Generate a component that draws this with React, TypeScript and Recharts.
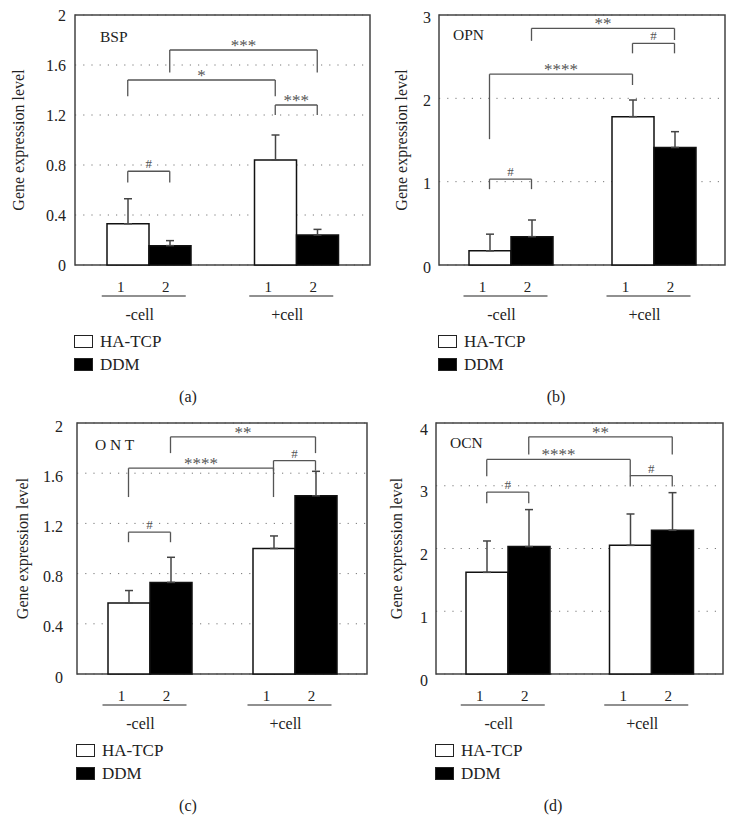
import { BarChart, Bar, XAxis, YAxis, CartesianGrid, ErrorBar, ReferenceArea, ReferenceLine, Legend } from "recharts";

const GROUPS = ["-cell", "+cell"];
const SERIES = [
  { key: "ha", name: "HA-TCP", fill: "#fff" },
  { key: "ddm", name: "DDM", fill: "#000" },
];

// BSP
const BSP_TICKS = [0, 0.4, 0.8, 1.2, 1.6, 2];
const BSP_HA = [0.33, 0.84];
const BSP_HA_SD = [0.2, 0.2];
const BSP_DDM = [0.155, 0.24];
const BSP_DDM_SD = [0.04, 0.045];
// [from bar, to bar, top, left leg end, right leg end, mark]
const BSP_SIG = [
  [0, 1, 0.75, 0.66, 0.66, "#"],
  [0, 2, 1.48, 1.35, 1.35, "*"],
  [1, 3, 1.72, 1.54, 1.54, "***"],
  [2, 3, 1.28, 1.2, 1.2, "***"],
];

// OPN
const OPN_TICKS = [0, 1, 2, 3];
const OPN_HA = [0.17, 1.78];
const OPN_HA_SD = [0.2, 0.2];
const OPN_DDM = [0.34, 1.41];
const OPN_DDM_SD = [0.2, 0.19];
const OPN_SIG = [
  [0, 1, 1.03, 0.91, 0.91, "#"],
  [0, 2, 2.29, 1.51, 2.16, "****"],
  [1, 3, 2.84, 2.69, 2.7, "**"],
  [2, 3, 2.66, 2.54, 2.54, "#"],
];

// ONT
const ONT_TICKS = [0, 0.4, 0.8, 1.2, 1.6, 2];
const ONT_HA = [0.565, 1.0];
const ONT_HA_SD = [0.1, 0.1];
const ONT_DDM = [0.73, 1.42];
const ONT_DDM_SD = [0.2, 0.195];
const ONT_SIG = [
  [0, 1, 1.13, 1.05, 1.05, "#"],
  [0, 2, 1.64, 1.41, 1.41, "****"],
  [1, 3, 1.89, 1.76, 1.76, "**"],
  [2, 3, 1.7, 1.62, 1.62, "#"],
];

// OCN
const OCN_TICKS = [0, 1, 2, 3, 4];
const OCN_HA = [1.62, 2.05];
const OCN_HA_SD = [0.5, 0.5];
const OCN_DDM = [2.03, 2.29];
const OCN_DDM_SD = [0.59, 0.6];
const OCN_SIG = [
  [0, 1, 2.9, 2.72, 2.72, "#"],
  [0, 2, 3.42, 3.15, 3.15, "****"],
  [1, 3, 3.78, 3.5, 3.5, "**"],
  [2, 3, 3.16, 2.99, 2.99, "#"],
];

const BAR = 42;
const H = 380;
const FONT = "'Liberation Serif', 'Times New Roman', serif";
const INK = "#222";
const LINE = "#555";

const CatTick = ({ x, y, payload }: any) => (
  <g fontFamily={FONT}>
    <text x={x - 28} y={y + 27} textAnchor="middle" fontSize={15} fill={INK}>1</text>
    <text x={x + 17} y={y + 27} textAnchor="middle" fontSize={15} fill={INK}>2</text>
    <line x1={x - 47} x2={x + 37} y1={y + 31} y2={y + 31} stroke={INK} strokeWidth={1.2} />
    <text x={x - 9} y={y + 55} textAnchor="middle" fontSize={16} fill={INK}>{payload.value}</text>
  </g>
);

// legend rows always in series order (HA-TCP first)
const LegendBox = () => (
  <div style={{ fontFamily: FONT }}>
    {SERIES.map((s) => (
      <div key={s.key} style={{ display: "flex", alignItems: "center", height: 23 }}>
        <span style={{ display: "inline-block", boxSizing: "border-box", width: 19, height: 13, border: "1.5px solid #222", background: s.fill, marginRight: 7 }} />
        <span style={{ fontSize: 17, color: INK }}>{s.name}</span>
      </div>
    ))}
  </div>
);

function Panel(props: any) {
  const { gene, ticks, ha, haSd, ddm, ddmSd, sig, left, top, width, plotLeft, right, plotBottom, tickGap, tickDy, labelX, gx, gy, caption, capX, capY } = props;
  const max = ticks[ticks.length - 1];
  const W = width - plotLeft - right;
  const data = GROUPS.map((g, i) => ({ g, ha: ha[i], haErr: [0, haSd[i]], ddm: ddm[i], ddmErr: [0, ddmSd[i]] }));
  // hidden numeric axis spans the plot as 0..1; bar centre of bar i (group, series)
  const barX = (i: number) => (Math.floor(i / 2) + 0.5) / 2 + (i % 2 ? 1 : -1) * (BAR / (2 * W));
  const lineProps = { xAxisId: "n", stroke: LINE, strokeWidth: 1.3 };

  return (
    <>
      <div style={{ position: "absolute", left, top, width, height: H }}>
        <BarChart width={width} height={H} data={data} margin={{ top: 15, right, left: 0, bottom: H - plotBottom - 60 }} barSize={BAR} barGap={0}>
          <CartesianGrid vertical={false} stroke="#777" strokeDasharray="1.2 7" />
          <XAxis dataKey="g" tick={(p: any) => <CatTick {...p} />} tickLine={false} axisLine={false} height={60} tickSize={0} tickMargin={0} interval={0} />
          <XAxis xAxisId="n" type="number" domain={[0, 1]} allowDataOverflow hide />
          <YAxis
            width={plotLeft}
            domain={[0, max]}
            ticks={ticks}
            interval={0}
            tickLine={false}
            axisLine={false}
            tickSize={0}
            tickMargin={tickGap}
            tick={(p: any) => (
              <text x={p.x} y={p.y + tickDy + 5.5} textAnchor="end" fontSize={16} fill={INK} fontFamily={FONT}>{p.payload.value}</text>
            )}
            label={{ value: "Gene expression level", angle: -90, position: "insideLeft", offset: labelX, fontSize: 16, fill: INK, style: { textAnchor: "middle", fontFamily: FONT } }}
          />
          <Legend
            layout="vertical"
            verticalAlign="middle"
            align="center"
            wrapperStyle={{ left: plotLeft - 1, top: plotBottom + 65, width: 150 }}
            content={() => <LegendBox />}
          />
          <Bar dataKey="ha" name="HA-TCP" fill="#fff" stroke="#111" strokeWidth={1.5} isAnimationActive={false}>
            <ErrorBar dataKey="haErr" direction="y" width={4} stroke="#444" strokeWidth={1.5} isAnimationActive={false} />
          </Bar>
          <Bar dataKey="ddm" name="DDM" fill="#000" stroke="#111" strokeWidth={1.5} isAnimationActive={false}>
            <ErrorBar dataKey="ddmErr" direction="y" width={4} stroke="#444" strokeWidth={1.5} isAnimationActive={false} />
          </Bar>
          <ReferenceArea
            xAxisId="n"
            x1={0}
            x2={1}
            y1={0}
            y2={max}
            fill="none"
            stroke="#444"
            strokeWidth={1.5}
            ifOverflow="visible"
            label={(p: any) => (
              <text x={p.viewBox.x + gx} y={p.viewBox.y + gy + 10} fontSize={15.5} fill={INK} fontFamily={FONT}>{gene}</text>
            )}
          />
          {sig.map(([a, b, t, la, lb, mark]: any, k: number) => {
            const xa = barX(a);
            const xb = barX(b);
            const hash = mark === "#";
            return [
              <ReferenceLine key={`${k}l`} {...lineProps} segment={[{ x: xa, y: la }, { x: xa, y: t }]} />,
              <ReferenceLine
                key={`${k}t`}
                {...lineProps}
                segment={[{ x: xa, y: t }, { x: xb, y: t }]}
                label={{ value: mark, position: "top", offset: hash ? 3 : -1, fontSize: hash ? 13 : 17, fill: LINE, fontFamily: FONT }}
              />,
              <ReferenceLine key={`${k}r`} {...lineProps} segment={[{ x: xb, y: lb }, { x: xb, y: t }]} />,
            ];
          })}
        </BarChart>
      </div>
      <div style={{ position: "absolute", left: capX - 30, width: 60, top: capY - 10, textAlign: "center", fontSize: 16, color: INK, lineHeight: "20px" }}>{caption}</div>
    </>
  );
}

export default function App() {
  return (
    <div style={{ position: "absolute", left: 0, top: 0, width: 736, height: 838, background: "#fff", fontFamily: FONT }}>
      <Panel gene="BSP" ticks={BSP_TICKS} ha={BSP_HA} haSd={BSP_HA_SD} ddm={BSP_DDM} ddmSd={BSP_DDM_SD} sig={BSP_SIG}
        left={0} top={0} width={372} plotLeft={75} right={2} plotBottom={265} tickGap={9} tickDy={0} labelX={18} gx={25} gy={17}
        caption="(a)" capX={188} capY={397} />
      <Panel gene="OPN" ticks={OPN_TICKS} ha={OPN_HA} haSd={OPN_HA_SD} ddm={OPN_DDM} ddmSd={OPN_DDM_SD} sig={OPN_SIG}
        left={368} top={0} width={362} plotLeft={71} right={5} plotBottom={265} tickGap={8} tickDy={2} labelX={33} gx={14} gy={15}
        caption="(b)" capX={556} capY={397} />
      <Panel gene="O N T" ticks={ONT_TICKS} ha={ONT_HA} haSd={ONT_HA_SD} ddm={ONT_DDM} ddmSd={ONT_DDM_SD} sig={ONT_SIG}
        left={0} top={408} width={372} plotLeft={77} right={5} plotBottom={266} tickGap={14} tickDy={3} labelX={22} gx={18} gy={17}
        caption="(c)" capX={188} capY={806} />
      <Panel gene="OCN" ticks={OCN_TICKS} ha={OCN_HA} haSd={OCN_HA_SD} ddm={OCN_DDM} ddmSd={OCN_DDM_SD} sig={OCN_SIG}
        left={368} top={408} width={362} plotLeft={68} right={7} plotBottom={266} tickGap={8} tickDy={6} labelX={28} gx={14} gy={15}
        caption="(d)" capX={553} capY={806} />
    </div>
  );
}
